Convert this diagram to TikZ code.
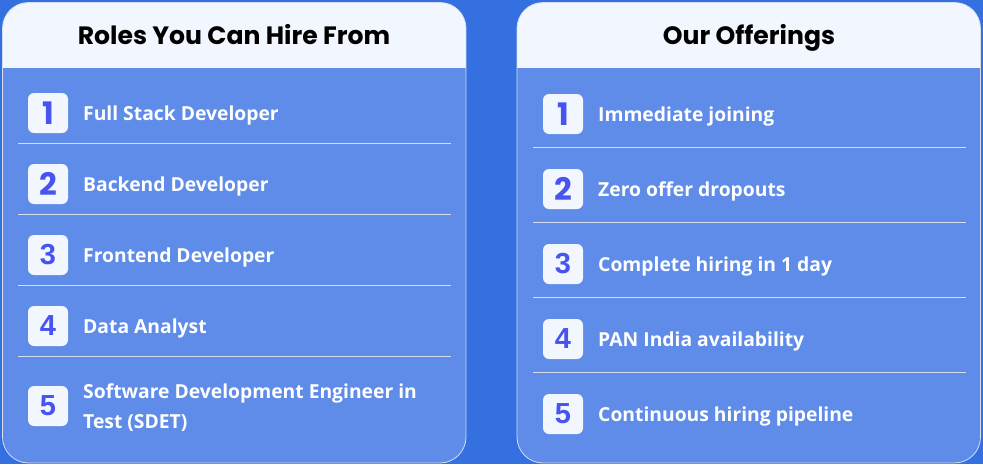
\documentclass[tikz,border=0pt]{standalone}
\usepackage{fontspec}
\newfontfamily\headfont{Poppins}
\newfontfamily\itemfont{Open Sans}
\newfontfamily\digitfont{Liberation Sans}

\definecolor{pagebg}{RGB}{53,112,224}
\definecolor{cardbody}{RGB}{94,140,232}
\definecolor{cardhead}{RGB}{242,246,254}
\definecolor{cardrule}{RGB}{214,222,240}
\definecolor{numblue}{RGB}{72,84,240}

\tikzset{
  cardbox/.style={rounded corners=26pt},
  title/.style={anchor=base, font=\headfont\bfseries\fontsize{25.1}{28}\selectfont, text=black},
  numbox/.style={fill=cardhead, rounded corners=6pt, minimum size=40pt, inner sep=0pt,
                 text=numblue, font=\headfont\bfseries\fontsize{31}{31}\selectfont},
  numboxb/.style={numbox, font=\digitfont\bfseries\fontsize{29}{29}\selectfont},
  itemtext/.style={anchor=base west, inner sep=0pt, text=white, align=left,
                   font=\itemfont\bfseries\fontsize{19.3}{30}\selectfont},
  sepline/.style={draw=cardrule, line width=0.9pt}
}

\begin{document}
\begin{tikzpicture}[x=1pt,y=-1pt]
  \useasboundingbox[fill=pagebg] (0,0) rectangle (983,464);

  % cards
  \foreach \cx/\cn in {2.5/roles, 517/offer} {
    \begin{scope}
      \clip[cardbox] (\cx,2.5) rectangle ++(463.5,460.5);
      \fill[cardbody] (\cx,2.5) rectangle ++(463.5,460.5);
      \fill[cardhead] (\cx,2.5) rectangle ++(463.5,65.5);
    \end{scope}
    \draw[cardbox, draw=cardrule, line width=0.8pt] (\cx,2.5) rectangle ++(463.5,460.5);
  }

  \node[title] (roles-title) at (234,44.5) {Roles You Can Hire From};
  \node[title] (offer-title) at (749,44.5) {Our Offerings};

  % left card
  \node[numbox]  (roles-n1) at (48,113) {1};
  \node[numbox]  (roles-n2) at (48,184) {2};
  \node[numboxb] (roles-n3) at (48,255) {3};
  \node[numboxb] (roles-n4) at (48,326) {4};
  \node[numboxb] (roles-n5) at (48,406) {5};
  \node[itemtext] (roles-t1) at (83,120) {Full Stack Developer};
  \node[itemtext] (roles-t2) at (83,191) {Backend Developer};
  \node[itemtext] (roles-t3) at (83,262) {Frontend Developer};
  \node[itemtext] (roles-t4) at (83,333) {Data Analyst};
  \node[itemtext] (roles-t5) at (83,428.5) {Software Development Engineer in\\Test (SDET)};
  \foreach \y in {143,214,285,356}
    \draw[sepline] (18,\y) -- (451,\y);

  % right card
  \node[numbox]  (offer-n1) at (563,114) {1};
  \node[numbox]  (offer-n2) at (563,189) {2};
  \node[numboxb] (offer-n3) at (563,264) {3};
  \node[numboxb] (offer-n4) at (563,339) {4};
  \node[numboxb] (offer-n5) at (563,414) {5};
  \node[itemtext] (offer-t1) at (598,121.5) {Immediate joining};
  \node[itemtext] (offer-t2) at (598,196.5) {Zero offer dropouts};
  \node[itemtext] (offer-t3) at (598,271.5) {Complete hiring in 1 day};
  \node[itemtext] (offer-t4) at (598,346.5) {PAN India availability};
  \node[itemtext] (offer-t5) at (598,421.5) {Continuous hiring pipeline};
  \foreach \y in {147,222,297,372}
    \draw[sepline] (533,\y) -- (966,\y);
\end{tikzpicture}
\end{document}
